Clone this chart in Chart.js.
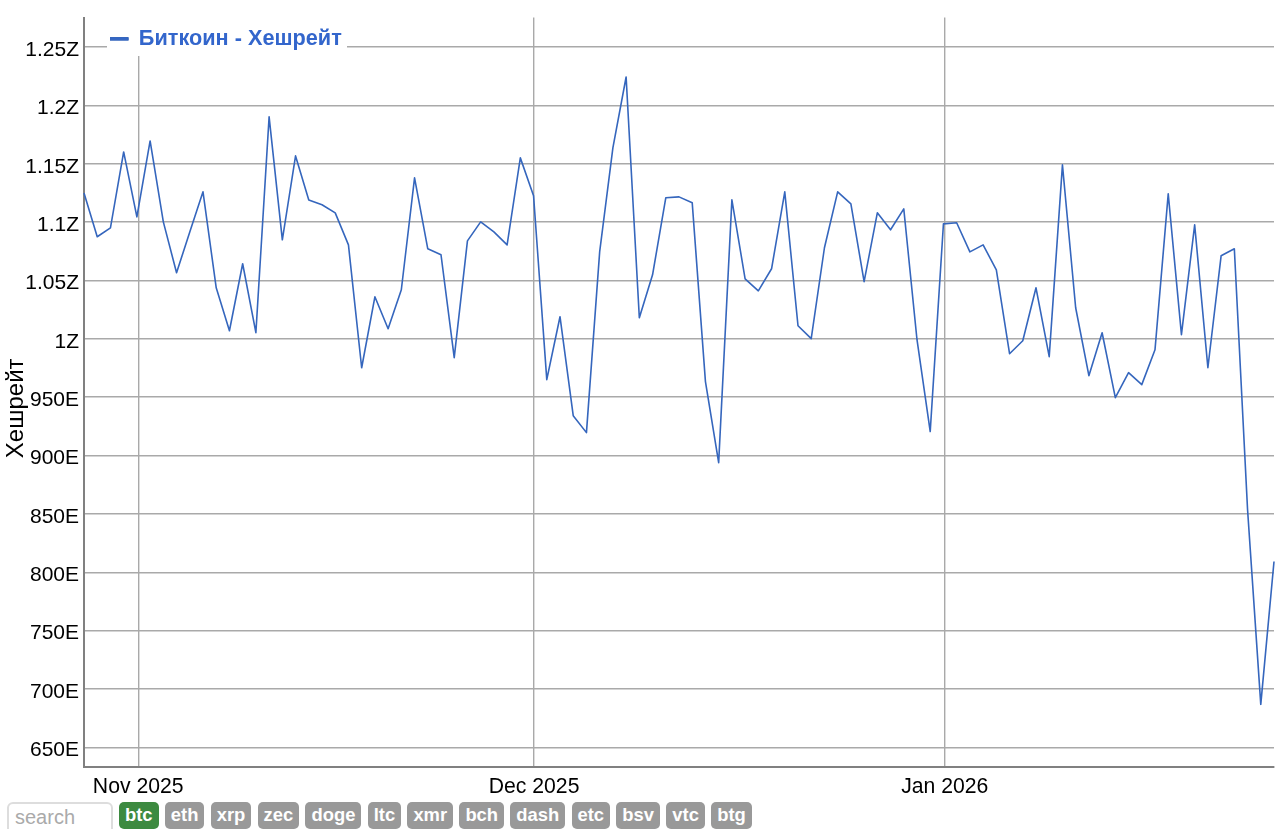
<!DOCTYPE html>
<html lang="ru">
<head>
<meta charset="utf-8">
<title>Биткоин - Хешрейт</title>
<script src="https://cdn.jsdelivr.net/npm/chart.js@4"></script>
<style>
html,body{margin:0;padding:0;background:#fff;overflow:hidden;height:829px;font-family:"Liberation Sans",Arial,sans-serif}
#wrap{position:absolute;left:0;top:0;width:1280px;height:800px}
#bar{position:absolute;left:7px;top:802px;display:flex;white-space:nowrap}
#search{box-sizing:border-box;width:106px;height:40px;border:2px solid #ddd;border-radius:6px;padding:3px 6px 12px;font:20px "Liberation Sans",sans-serif;margin-right:6px;color:#999;outline:none}
#search::placeholder{color:#aaa}
.c{display:block;box-sizing:border-box;height:27px;border-radius:5px;background:#999;color:#fff;font:bold 18.4px/26px "Liberation Sans",sans-serif;padding:0 6px;margin-right:6.25px;text-align:center}
.c.on{background:#3d8a40}
</style>
</head>
<body>
<div id="wrap"><canvas id="c" width="1280" height="800"></canvas></div>
<div id="bar"><input id="search" placeholder="search"></div>
<script>
const seriesName = 'Биткоин - Хешрейт';
const axisTitle = 'Хешрейт';
const startDate = [2025, 9, 28];
// hash rate in exahashes per second (E), one value per day
const hashrate = [
1125,1087.4,1095.1,1160.1,1104.5,1169.5,1100.2,1056.6,1091.6,1125.9,
1043.7,1006.9,1064.3,1005.2,1190.1,1084.8,1156.7,1119,1114.8,1107.9,
1080.5,975.2,1036,1008.6,1042,1137.9,1077.1,1072,983.8,1083.9,
1100.2,1091.6,1080.5,1155,1122.5,965,1018.9,934.1,919.6,1074.5,
1163.5,1224.3,1018,1054.8,1120.8,1121.6,1116.5,963.3,893.9,1119,
1051.4,1041.1,1060,1125.9,1011.2,1000.1,1078,1125.9,1115.6,1048.9,
1107.9,1093.4,1111.3,999.2,920.5,1098.5,1099.4,1074.5,1080.5,1059.1,
987.2,998.3,1043.7,984.7,1149,1026.6,968.4,1005.2,949.6,971,
960.7,990.6,1124.2,1003.5,1097.6,975.2,1071.1,1077.1,853.7,686.8,809.2
];
const yTickValues = [650,700,750,800,850,900,950,1000,1050,1100,1150,1200,1250];
const yTickLabels = ['650E','700E','750E','800E','850E','900E','950E','1Z','1.05Z','1.1Z','1.15Z','1.2Z','1.25Z'];
const xTickIndexes = [4.1,34.04,65.1];
const xTickLabels = ['Nov 2025','Dec 2025','Jan 2026'];
const coins = ['btc','eth','xrp','zec','doge','ltc','xmr','bch','dash','etc','bsv','vtc','btg'];

const bar = document.getElementById('bar');
coins.forEach((name,i)=>{
  const el=document.createElement('div');
  el.className='c'+(i===0?' on':'');
  el.textContent=name;
  bar.appendChild(el);
});

const labels = hashrate.map((_,i)=>{
  const d=new Date(startDate[0],startDate[1],startDate[2]+i);
  return d.toISOString().slice(0,10);
});

const BLUE='#3366cc', GRID='#a9a9a9', AXIS='#808080';
const legendPlacement = {
  id:'legendPlacement',
  afterLayout(chart){
    const l=chart.legend;
    l.left=110; l.right=350; l.top=28; l.bottom=54;
  },
  beforeDatasetsDraw(chart){
    const c=chart.ctx;
    c.save();c.fillStyle='#fff';c.fillRect(107,16,240,40);c.restore();
    chart.legend.draw();
  }
};

new Chart(document.getElementById('c'),{
  type:'line',
  data:{labels,datasets:[{label:seriesName,data:hashrate,borderColor:'#3566bd',backgroundColor:BLUE,borderWidth:1.6,borderJoinStyle:'round',pointRadius:0,tension:0,fill:false,clip:false}]},
  plugins:[legendPlacement],
  options:{
    responsive:false,animation:false,devicePixelRatio:1,
    layout:{padding:{top:17,right:6,left:0,bottom:0}},
    plugins:{
      tooltip:{enabled:false},
      legend:{
        position:'chartArea',align:'start',
        labels:{color:BLUE,boxWidth:18,boxHeight:2.2,padding:0,font:{family:'"Liberation Sans"',size:21.7,weight:'bold'}}
      }
    },
    scales:{
      x:{
        type:'category',offset:false,
        afterBuildTicks(a){a.ticks=xTickIndexes.map(v=>({value:v}));},
        afterFit(a){a.height=33;},
        grid:{color:GRID,lineWidth:1.4,drawTicks:false},
        border:{color:AXIS,width:2},
        ticks:{autoSkip:false,maxRotation:0,padding:7,color:'#000',font:{family:'"Liberation Sans"',size:21.2},
          callback:(v,i)=>xTickLabels[i]}
      },
      y:{
        type:'linear',min:633.1,max:1275.2,
        afterBuildTicks(a){a.ticks=yTickValues.map(v=>({value:v}));},
        afterFit(a){
          a.width=84;
          if(!a._shifted){
            a._shifted=true;
            const title=a.drawTitle, lab=a.drawLabels;
            a.drawTitle=function(){const c=this.ctx;c.save();c.translate(0,16);title.call(this);c.restore();};
            a.drawLabels=function(area){const c=this.ctx;c.save();c.translate(0,3);lab.call(this,area);c.restore();};
          }
        },
        grid:{color:GRID,lineWidth:1.4,drawTicks:false},
        border:{color:AXIS,width:2},
        title:{display:true,text:axisTitle,color:'#000',padding:{top:1.5,bottom:0},font:{family:'"Liberation Sans"',size:24}},
        ticks:{padding:5,color:'#000',font:{family:'"Liberation Sans"',size:21},autoSkip:false,
          callback:(v,i)=>yTickLabels[i]}
      }
    }
  }
});
</script>
</body>
</html>
